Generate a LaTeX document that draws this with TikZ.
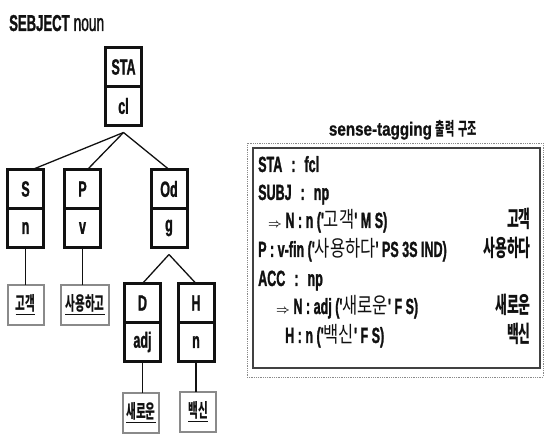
\documentclass[tikz,border=0pt]{standalone}
\usepackage{fontspec}
\usepackage{amsmath}
\setmainfont{Liberation Sans}
\newfontfamily\tagfont{Liberation Sans}[FakeStretch=0.57, FakeBold=1.2]
\newfontfamily\titlefont{Liberation Sans}[FakeStretch=0.8, FakeBold=0.8]
\newfontfamily\krfont{Noto Sans CJK KR}[FakeStretch=0.75]
\newfontfamily\krnarrow{Noto Sans CJK KR}[FakeStretch=0.56]
\usetikzlibrary{positioning, calc}
\definecolor{ink}{HTML}{111111}
\definecolor{scan}{HTML}{8A8A8A}
\tikzset{
  every node/.style = {text=ink},
  cellbox/.style   = {draw=ink, line width=3pt, fill=white, inner sep=0pt, outer sep=0pt,
                      minimum width=36pt, minimum height=39pt,
                      font=\tagfont\bfseries\fontsize{22}{22}\selectfont},
  leafbox/.style   = {draw=scan, line width=2pt, fill=white, inner sep=0pt, outer sep=0pt,
                      minimum width=36pt, minimum height=40pt,
                      font=\krnarrow\bfseries\fontsize{19}{19}\selectfont},
  treeline/.style  = {draw=ink, line width=1.3pt},
  rowtext/.style   = {anchor=base west, inner sep=0pt,
                      font=\tagfont\bfseries\fontsize{22}{22}\selectfont},
  rowword/.style   = {anchor=base east, inner sep=0pt,
                      font=\krnarrow\bfseries\fontsize{23}{23}\selectfont},
  panelbox/.style  = {draw=ink!80, line width=2pt, inner sep=0pt,
                      minimum width=287pt, minimum height=220pt},
  panelscan/.style = {draw=scan, densely dotted, line width=0.8pt, inner sep=0pt,
                      minimum width=296pt, minimum height=234pt},
}
\newcommand{\kr}[1]{{\krfont\mdseries #1}}
\newcommand{\widegap}{\spaceskip=9pt\relax}
\newcommand{\sarrow}{{\fontsize{13}{13}\selectfont$\boldsymbol{\Rightarrow}$}}

\begin{document}
\begin{tikzpicture}[x=1pt, y=-1pt]
\useasboundingbox (0,0) rectangle (544,438);

\node[anchor=base west, inner sep=0pt, font=\tagfont\bfseries\fontsize{23}{23}\selectfont] (subjnote)
  at (9,31) {SEBJECT{\mdseries\fontsize{24}{24}\selectfont\,noun}};

% tree
\node[cellbox] (sta) at (123.5,67) {STA};
\node[cellbox, below=0pt of sta] (cl) {cl};

\node[cellbox] (s)  at (25.5,189) {S};
\node[cellbox, below=0pt of s] (sn) {n};
\node[cellbox] (p)  at (82.5,189) {P};
\node[cellbox, below=0pt of p] (pv) {v};
\node[cellbox] (od) at (169,189) {Od};
\node[cellbox, below=0pt of od] (g) {g};

\node[cellbox] (d) at (142.5,303) {D};
\node[cellbox, below=0pt of d] (adj) {adj};
\node[cellbox] (h) at (196,303) {H};
\node[cellbox, below=0pt of h] (hn) {n};

\node[leafbox] (sleaf) at (25.5,305) {\underline{고객}};
\node[leafbox, minimum width=48pt] (pleaf) at (85,305) {\underline{사용하고}};
\node[leafbox] (dleaf) at (141,413) {\underline{새로운}};
\node[leafbox] (hleaf) at (198,412) {\underline{백신}};

\coordinate[below=7pt of cl.south] (clfork);
\coordinate[below=7pt of g.south] (gfork);
\draw[treeline] (clfork) -- ([xshift=7pt]s.north);
\draw[treeline] (clfork) -- ([xshift=5pt]p.north);
\draw[treeline] (clfork) -- (od.north);
\draw[treeline] (gfork) -- (d.north);
\draw[treeline] (gfork) -- (h.north);
\draw[treeline] (sn.south) -- (sn.south |- sleaf.north);
\draw[treeline] (pv.south) -- (pv.south |- pleaf.north);
\draw[treeline] (adj.south) -- (adj.south |- dleaf.north);
\draw[treeline] (hn.south) -- (hn.south |- hleaf.north);

% output panel
\node[font=\titlefont\bfseries\fontsize{19}{19}\selectfont] (title) at (403,130)
  {sense-tagging\hspace{4pt}{\krnarrow\fontsize{18}{18}\selectfont 출력\hspace{4pt}구조}};
\node[panelscan] (scanframe) at (395,260) {};
\node[panelbox]  (panel) at (396.5,258) {};

\node[rowtext] (rsta)  at (258,172) {\widegap STA : fcl};
\node[rowtext] (rsubj) at (258,200) {\widegap SUBJ : np};
\node[rowtext] (rn1)   at (268,228) {\sarrow\ N : n ('\kr{고객}' M S)};
\node[rowtext] (rp)    at (258,257) {P : v-fin ('\kr{사용하다}' PS 3S IND)};
\node[rowtext] (racc)  at (258,286) {\widegap ACC : np};
\node[rowtext] (rn2)   at (276,314) {\sarrow\ N : adj ('\kr{새로운}' F S)};
\node[rowtext] (rh)    at (285,343) {H : n ('\kr{백신}' F S)};

\node[rowword] (wn1) at (531,228) {고객};
\node[rowword] (wp)  at (531,257) {사용하다};
\node[rowword] (wn2) at (531,314) {새로운};
\node[rowword] (wh)  at (531,343) {백신};
\end{tikzpicture}
\end{document}
